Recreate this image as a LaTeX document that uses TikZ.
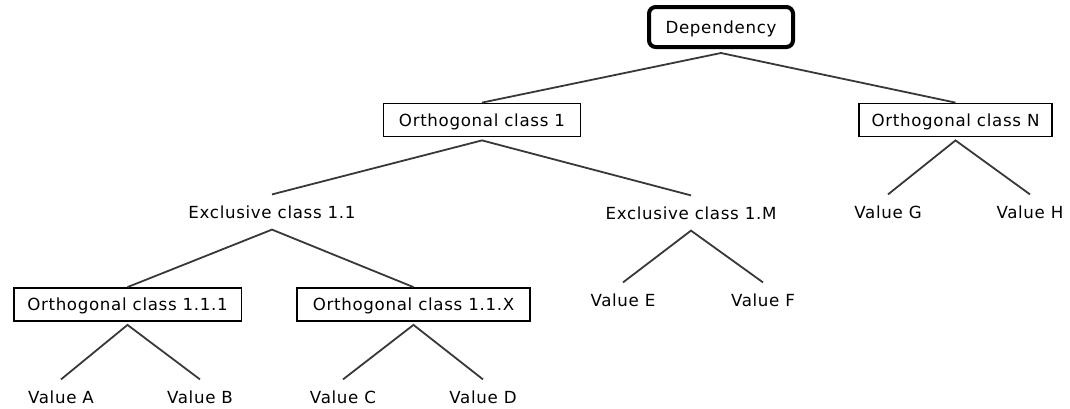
\documentclass[tikz,border=0pt]{standalone}
\usepackage{fontspec}
\setmainfont[LetterSpace=4]{DejaVu Sans}
\begin{document}
\begin{tikzpicture}[x=0.75pt,y=-0.75pt,
  every node/.style={font=\fontsize{12.5pt}{15pt}\selectfont, text height=9.1pt, text depth=0pt, inner sep=0pt},
  lbl/.style={minimum height=26pt},
  box/.style={draw, line width=1.1pt, minimum height=25pt},
  rootbox/.style={draw, line width=3pt, rounded corners=5pt, minimum width=108pt, minimum height=30pt},
  conn/.style={draw=black!78, line width=1.35pt}
]
\useasboundingbox (0,0) rectangle (1070,408);
\node[rootbox] (dep) at (721,27) {Dependency};
\node[box, minimum width=147.4pt] (o1) at (482,120) {Orthogonal class 1};
\node[box, minimum width=145pt] (oN) at (955.5,120) {Orthogonal class N};
\node[lbl] (e11) at (272,212) {Exclusive class 1.1};
\node[lbl] (e1M) at (691,213) {Exclusive class 1.M};
\node[lbl] (vG) at (888,212) {Value G};
\node[lbl] (vH) at (1030,212) {Value H};
\node[box, minimum width=170.6pt] (o111) at (127.5,304.5) {Orthogonal class 1.1.1};
\node[box, minimum width=175pt] (o11X) at (413.5,304.5) {Orthogonal class 1.1.X};
\node[lbl] (vE) at (623,300) {Value E};
\node[lbl] (vF) at (763,300) {Value F};
\node[lbl] (vA) at (61,397) {Value A};
\node[lbl] (vB) at (200,397) {Value B};
\node[lbl] (vC) at (343,397) {Value C};
\node[lbl] (vD) at (483,397) {Value D};
\draw[conn] (o1.north) -- ([yshift=-3pt]dep.south) -- (oN.north);
\draw[conn] (e11.north) -- ([yshift=-2.25pt]o1.south) -- (e1M.north);
\draw[conn] (vG.north) -- ([yshift=-2.25pt]oN.south) -- (vH.north);
\draw[conn] (o111.north) -- (e11.south) -- (o11X.north);
\draw[conn] (vE.north) -- (e1M.south) -- (vF.north);
\draw[conn] (vA.north) -- ([yshift=-2.25pt]o111.south) -- (vB.north);
\draw[conn] (vC.north) -- ([yshift=-2.25pt]o11X.south) -- (vD.north);
\end{tikzpicture}
\end{document}
